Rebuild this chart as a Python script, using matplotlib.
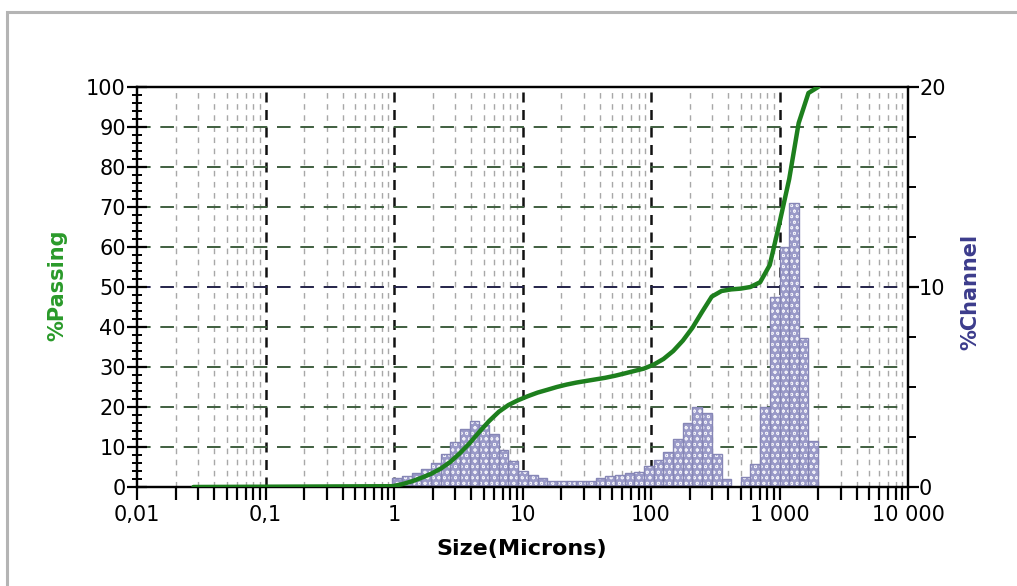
import matplotlib
matplotlib.use('Agg')
import matplotlib.pyplot as plt
import numpy as np
from matplotlib.patches import Rectangle
from matplotlib.ticker import LogLocator, FixedLocator, MultipleLocator, NullFormatter

# channel edges (microns), fourth-root-of-two series
edges = [0.972, 1.156, 1.375, 1.635, 1.945, 2.312, 2.75, 3.27, 3.89, 4.62,
         5.5, 6.54, 7.78, 9.25, 11.0, 13.1, 15.6, 18.5, 22.0, 26.2,
         31.1, 37.0, 44.0, 52.3, 62.5, 74.0, 88.0, 105.0, 125.0, 149.0,
         177.0, 210.0, 250.0, 297.0, 354.0, 420.0, 500.0, 594.0, 707.0, 840.0,
         1000.0, 1190.0, 1410.0, 1680.0, 2000.0]

# % in each channel
channel = [0.45, 0.55, 0.7, 0.9, 1.2, 1.65, 2.25, 2.9, 3.3, 3.1,
           2.65, 1.85, 1.3, 0.8, 0.6, 0.43, 0.32, 0.32, 0.32, 0.32,
           0.32, 0.43, 0.55, 0.6, 0.7, 0.75, 1.05, 1.35, 1.77, 2.38,
           3.18, 4.0, 3.68, 1.63, 0.38, 0.0, 0.48, 1.15, 4.02, 9.52,
           12.0, 14.18, 7.47, 2.32]

# % passing curve
pass_size = [0.0275] + edges
passing = [0, 0.2, 0.7, 1.4, 2.3, 3.3, 4.6, 6.3, 8.5, 11.0, 13.8,
           16.5, 18.8, 20.5, 21.7, 22.7, 23.6, 24.3, 25.0, 25.6, 26.1,
           26.5, 26.9, 27.3, 27.8, 28.4, 29.0, 29.6, 30.6, 32.0, 34.0,
           36.6, 39.8, 43.8, 47.6, 49.0, 49.4, 49.6, 50.0, 51.2, 55.5,
           66.0, 77.0, 91.0, 98.5, 100]

x_ticks = [0.01, 0.1, 1, 10, 100, 1000, 10000]
x_labels = ['0,01', '0,1', '1', '10', '100', '1 000', '10 000']

plt.rcParams['font.family'] = 'DejaVu Sans'
plt.rcParams['hatch.linewidth'] = 0.6

fig = plt.figure(figsize=(10.17, 5.86), dpi=100)
fig.patch.set_facecolor('white')
fig.patches.append(Rectangle((7 / 1017, -0.05), 1.1, 1 - 12 / 586 + 0.05,
                             transform=fig.transFigure, fill=False,
                             edgecolor='#b4b4b4', linewidth=2.2))

ax = fig.add_axes([137 / 1017, 99 / 586, 771 / 1017, 400 / 586])
ax2 = ax.twinx()
ax.set_zorder(ax2.get_zorder() + 1)
ax.patch.set_visible(False)

ax.set_xscale('log')
ax.set_xlim(0.01, 10000)
ax.set_ylim(0, 100)
ax2.set_ylim(0, 20)

# grid: minor (gray) and decade (black) verticals, horizontal every 10
for dec in [0.01, 0.1, 1, 10, 100, 1000]:
    for m in range(2, 10):
        ax2.axvline(dec * m, color='#a8a8a8', lw=1.0, ls=(0, (4, 4)), zorder=0)
for dec in x_ticks[1:-1]:
    ax2.axvline(dec, color='#111111', lw=1.8, ls=(0, (4, 3)), zorder=0)
for yv in range(10, 100, 10):
    c = '#24244a' if yv == 50 else '#3f5f3f'
    ax2.axhline(yv / 5, color=c, lw=1.4, ls=(0, (7, 5)), zorder=0)

# channel bars: slate fill with white dot pattern, then outline
lefts = np.array(edges[:-1])
widths = np.diff(edges)
ax2.bar(lefts, channel, width=widths, align='edge', color='#9a9ac8',
        edgecolor='#f0f0f8', hatch='ooo', linewidth=0, zorder=1)
ax2.bar(lefts, channel, width=widths, align='edge', fill=False,
        edgecolor='#8686b6', linewidth=1.0, zorder=2)

# cumulative passing
ax.plot(pass_size, passing, color='#1d7f1d', lw=3.2, zorder=5,
        solid_capstyle='round')

# axes styling
for a in (ax, ax2):
    for s in a.spines.values():
        s.set_linewidth(1.6)
        s.set_color('black')

ax.xaxis.set_major_locator(FixedLocator(x_ticks))
ax.set_xticklabels(x_labels)
ax.xaxis.set_minor_locator(LogLocator(base=10, subs=np.arange(2, 10), numticks=20))
ax.xaxis.set_minor_formatter(NullFormatter())
ax.tick_params(axis='x', which='both', direction='out', length=9, width=1.6,
               labelsize=15, pad=4)

ax.yaxis.set_major_locator(MultipleLocator(10))
ax.yaxis.set_minor_locator(MultipleLocator(2))
ax.tick_params(axis='y', which='major', direction='inout', length=14, width=1.6,
               labelsize=15, pad=1)
ax.tick_params(axis='y', which='minor', direction='inout', length=7, width=1.4)

ax2.yaxis.set_major_locator(FixedLocator([0, 10, 20]))
ax2.yaxis.set_minor_locator(MultipleLocator(2.5))
ax2.tick_params(axis='y', which='major', direction='out', length=8, width=1.6,
                labelsize=15, pad=0)
ax2.tick_params(axis='y', which='minor', direction='out', length=6, width=1.4)

fig.text(57 / 1017, 1 - 285 / 586, '%Passing', rotation=90, color='#2a9a2a',
         fontsize=15, fontweight='bold', ha='center', va='center')
fig.text(970 / 1017, 1 - 292 / 586, '%Channel', rotation=90, color='#3c3c8c',
         fontsize=15, fontweight='bold', ha='center', va='center')
fig.text(522 / 1017, 1 - 549 / 586, 'Size(Microns)', color='black',
         fontsize=16, fontweight='bold', ha='center', va='center')

plt.savefig('out.png', dpi=100)
